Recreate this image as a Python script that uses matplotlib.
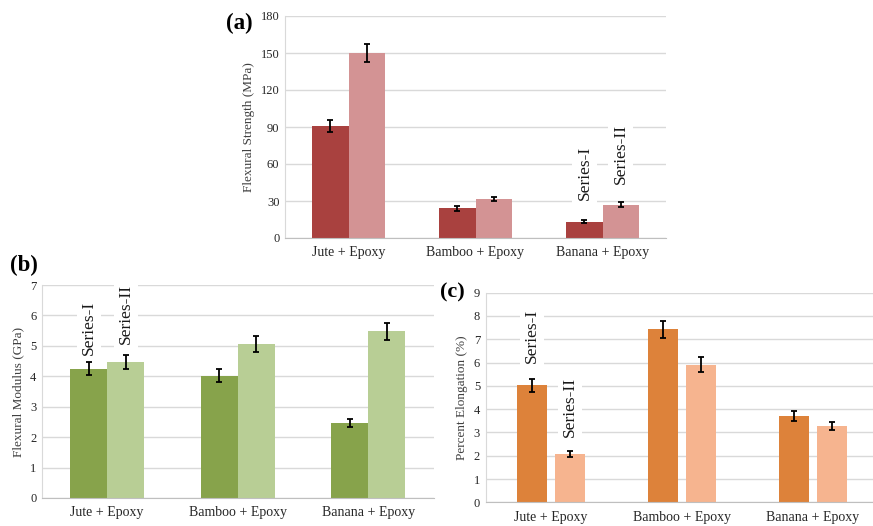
import numpy as np
import matplotlib
matplotlib.use("Agg")
import matplotlib.pyplot as plt

plt.rcParams['font.family'] = ['Liberation Serif', 'DejaVu Serif']

categories = ['Jute + Epoxy', 'Bamboo + Epoxy', 'Banana + Epoxy']

# (a) flexural strength, MPa
strength_s1 = [91, 24, 13.2]
strength_s1_err = [5, 2, 1]
strength_s2 = [150, 31.6, 27]
strength_s2_err = [7.5, 2, 1.8]

# (b) flexural modulus, GPa
modulus_s1 = [4.25, 4.02, 2.47]
modulus_s1_err = [0.22, 0.21, 0.13]
modulus_s2 = [4.47, 5.07, 5.48]
modulus_s2_err = [0.23, 0.27, 0.28]

# (c) percent elongation
elong_s1 = [5.02, 7.42, 3.7]
elong_s1_err = [0.27, 0.38, 0.2]
elong_s2 = [2.08, 5.9, 3.28]
elong_s2_err = [0.12, 0.32, 0.17]

W, H = 873, 526
fig = plt.figure(figsize=(W / 100, H / 100), dpi=100)


def px_axes(x0, y0, x1, y1):
    # pixel box (left, top, right, bottom) -> figure fractions
    return fig.add_axes([x0 / W, 1 - y1 / H, (x1 - x0) / W, (y1 - y0) / H])


def panel(ax, s1, e1, s2, e2, c1, c2, ymax, step, ylabel, width, offset):
    x = np.arange(len(categories))
    ax.bar(x - offset, s1, width, color=c1, zorder=2)
    ax.bar(x + offset, s2, width, color=c2, zorder=2)
    ekw = dict(fmt='none', ecolor='black', elinewidth=1.3, capsize=2.5,
               capthick=1.3, zorder=3)
    ax.errorbar(x - offset, s1, yerr=e1, **ekw)
    ax.errorbar(x + offset, s2, yerr=e2, **ekw)
    ax.set_xlim(-0.5, len(categories) - 0.5)
    ax.set_ylim(0, ymax)
    ax.set_yticks(np.arange(0, ymax + step / 2, step))
    ax.set_xticks(x)
    ax.set_xticklabels(categories, fontsize=10, color='#262626')
    ax.tick_params(axis='both', length=0)
    ax.tick_params(axis='y', labelsize=9, labelcolor='#262626', pad=4)
    ax.tick_params(axis='x', pad=6)
    ax.yaxis.grid(True, color='#d9d9d9', linewidth=1, zorder=0)
    ax.set_axisbelow(True)
    for s in ['top', 'right']:
        ax.spines[s].set_visible(False)
    ax.spines['left'].set_color('#d9d9d9')
    ax.spines['bottom'].set_color('#bfbfbf')
    ax.set_ylabel(ylabel, fontsize=9.5, color='#404040', labelpad=4)


def series_label(ax, x, y, text):
    ax.text(x, y, text, rotation=90, ha='center', va='center', fontsize=12.5,
            color='#1a1a1a', zorder=4,
            bbox=dict(facecolor='white', edgecolor='none', pad=3))


# (a)
ax_a = px_axes(285, 16, 666, 238)
panel(ax_a, strength_s1, strength_s1_err, strength_s2, strength_s2_err,
      '#a9413f', '#d39394', 180, 30, 'Flexural Strength (MPa)', 0.285, 0.1425)
series_label(ax_a, 2 - 0.1425, 53, 'Series-I')
series_label(ax_a, 2 + 0.1425, 68, 'Series-II')
fig.text(239 / W, 1 - 23 / H, '(a)', fontsize=16.5, fontweight='bold',
         ha='center', va='center')

# (b)
ax_b = px_axes(42, 285, 433.5, 498)
panel(ax_b, modulus_s1, modulus_s1_err, modulus_s2, modulus_s2_err,
      '#87a34b', '#b8ce95', 7, 1, 'Flexural Modulus (GPa)', 0.284, 0.142)
series_label(ax_b, -0.142, 5.6, 'Series-I')
series_label(ax_b, 0.142, 6.05, 'Series-II')
fig.text(24 / W, 1 - 265 / H, '(b)', fontsize=16.5, fontweight='bold',
         ha='center', va='center')

# (c)
ax_c = px_axes(485.6, 292.7, 878, 502.3)
panel(ax_c, elong_s1, elong_s1_err, elong_s2, elong_s2_err,
      '#dd823a', '#f6b48f', 9, 1, 'Percent Elongation (%)', 0.23, 0.145)
series_label(ax_c, -0.145, 7.15, 'Series-I')
series_label(ax_c, 0.145, 4.1, 'Series-II')
fig.text(452 / W, 1 - 292 / H, '(c)', fontsize=16, fontweight='bold',
         ha='center', va='center')

fig.savefig('out.png', dpi=100)
